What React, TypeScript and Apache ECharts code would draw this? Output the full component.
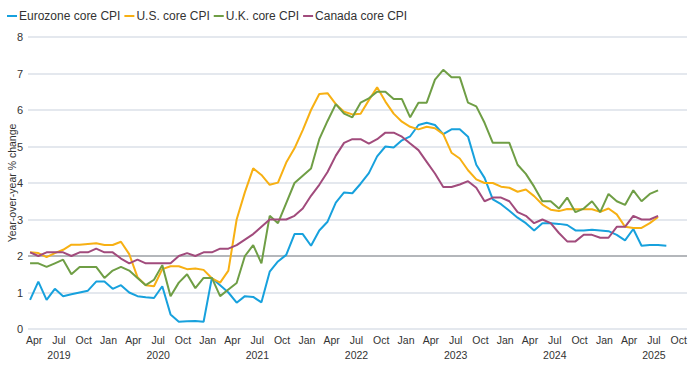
import React, { useEffect, useRef } from "react";
import * as echarts from "echarts";

// Months are counted from Jan 2019 (0 = Jan 2019). Each series starts in Mar 2019.
const START_MONTH = 2;
const MONTH_NAMES = ["Jan", "Feb", "Mar", "Apr", "May", "Jun", "Jul", "Aug", "Sep", "Oct", "Nov", "Dec"];
const TICK_MONTHS = [3, 6, 9, 12, 15, 18, 21, 24, 27, 30, 33, 36, 39, 42, 45, 48, 51, 54, 57, 60, 63, 66, 69, 72, 75, 78, 81];
const Y_TICKS = [0, 1, 2, 3, 4, 5, 6, 7, 8];

const eurozone = [
  0.8, 1.3, 0.8, 1.1, 0.9, 0.95, 1.0, 1.05, 1.3, 1.3,
  1.1, 1.2, 1.0, 0.9, 0.87, 0.85, 1.17, 0.4, 0.2, 0.21, 0.22, 0.2,
  1.4, 1.2, 1.0, 0.72, 0.9, 0.88, 0.73, 1.57, 1.85, 2.03, 2.6, 2.6,
  2.28, 2.7, 2.94, 3.46, 3.74, 3.72, 3.98, 4.27, 4.73, 5.0, 4.97, 5.17,
  5.28, 5.59, 5.65, 5.59, 5.34, 5.47, 5.47, 5.27, 4.5, 4.14, 3.55, 3.42,
  3.24, 3.05, 2.9, 2.7, 2.9, 2.9, 2.88, 2.85, 2.7, 2.7, 2.72, 2.7,
  2.68, 2.58, 2.43, 2.74, 2.28, 2.3, 2.3, 2.28,
];
const us = [
  2.1, 2.08, 1.97, 2.08, 2.17, 2.31, 2.31, 2.33, 2.35, 2.3,
  2.3, 2.39, 2.05, 1.42, 1.2, 1.17, 1.64, 1.72, 1.72, 1.64, 1.66, 1.62,
  1.39, 1.27, 1.6, 3.0, 3.75, 4.4, 4.22, 3.95, 4.01, 4.56, 4.95, 5.45,
  6.0, 6.44, 6.46, 6.16, 5.95, 5.88, 5.9, 6.27, 6.62, 6.23, 5.9, 5.68,
  5.54, 5.47, 5.54, 5.5, 5.34, 4.83, 4.67, 4.35, 4.1, 4.0, 4.0, 3.9,
  3.87, 3.76, 3.82, 3.64, 3.41, 3.27, 3.23, 3.29, 3.28, 3.28, 3.28, 3.21,
  3.3, 3.14, 2.8, 2.77, 2.77, 2.9, 3.07,
];
const uk = [
  1.8, 1.8, 1.7, 1.8, 1.9, 1.5, 1.7, 1.7, 1.7, 1.4,
  1.6, 1.7, 1.6, 1.4, 1.2, 1.35, 1.75, 0.9, 1.27, 1.5, 1.12, 1.4,
  1.4, 0.9, 1.08, 1.26, 2.0, 2.3, 1.8, 3.1, 2.9, 3.45, 4.0, 4.2,
  4.4, 5.2, 5.7, 6.16, 5.9, 5.8, 6.2, 6.32, 6.5, 6.5, 6.3, 6.3,
  5.8, 6.2, 6.2, 6.83, 7.1, 6.9, 6.9, 6.2, 6.1, 5.65, 5.1, 5.1,
  5.1, 4.5, 4.25, 3.9, 3.5, 3.5, 3.3, 3.6, 3.2, 3.3, 3.5, 3.2,
  3.7, 3.5, 3.4, 3.8, 3.5, 3.7, 3.8,
];
const canada = [
  2.1, 2.0, 2.1, 2.1, 2.1, 2.0, 2.1, 2.1, 2.2, 2.1,
  2.1, 1.93, 1.8, 1.9, 1.8, 1.8, 1.8, 1.8, 2.0, 2.08, 2.0, 2.1,
  2.1, 2.2, 2.2, 2.3, 2.45, 2.6, 2.8, 3.0, 3.0, 3.0, 3.1, 3.3,
  3.65, 3.95, 4.3, 4.75, 5.1, 5.2, 5.2, 5.08, 5.2, 5.38, 5.38, 5.27,
  5.08, 4.9, 4.58, 4.26, 3.89, 3.89, 3.96, 4.05, 3.87, 3.5, 3.6, 3.6,
  3.5, 3.2, 3.1, 2.9, 3.0, 2.9, 2.63, 2.4, 2.4, 2.58, 2.58, 2.5,
  2.5, 2.8, 2.8, 3.1, 3.0, 3.0, 3.1,
];

const SERIES = [
  { name: "Eurozone core CPI", values: eurozone, color: "#17a1dd" },
  { name: "U.S. core CPI", values: us, color: "#f7b013" },
  { name: "U.K. core CPI", values: uk, color: "#6f9e45" },
  { name: "Canada core CPI", values: canada, color: "#a14b7c" },
];

const FONT = "'Liberation Sans', Arial, Helvetica, sans-serif";

export default function App() {
  const ref = useRef<HTMLDivElement>(null);

  useEffect(() => {
    if (!ref.current) return;
    const chart = echarts.init(ref.current, null, { renderer: "svg" });
    const toPoints = (vals: number[]) => vals.map((v, i) => [START_MONTH + i + 0.5, v]);
    const splitColors = Y_TICKS.map((t) => (t === 2 ? "#9b9fa4" : "#dbe1e8"));

    chart.setOption({
      animation: false,
      textStyle: { fontFamily: FONT },
      legend: {
        left: 2,
        top: 5,
        icon: "rect",
        itemWidth: 10,
        itemHeight: 2,
        itemGap: 4,
        textStyle: { fontSize: 12, color: "#333", fontFamily: FONT, padding: [0, 0, 0, -3] },
        data: SERIES.map((s) => s.name),
      },
      grid: { left: 28, right: 13, top: 37, bottom: 36, containLabel: false, outerBoundsMode: "none" },
      xAxis: {
        type: "value",
        min: 2.25,
        max: 82,
        axisLine: { show: false },
        axisTick: { show: false },
        splitLine: { show: false },
        axisLabel: {
          customValues: TICK_MONTHS,
          margin: 3,
          fontSize: 10.5,
          color: "#333",
          fontFamily: FONT,
          lineHeight: 15,
          formatter: (val: number) => {
            const m = Math.round(val);
            const name = MONTH_NAMES[((m % 12) + 12) % 12];
            if (name === "Jul") return `Jul\n${2019 + Math.floor(m / 12)}`;
            return name;
          },
        },
      },
      yAxis: {
        type: "value",
        min: 0,
        max: 8,
        interval: 1,
        name: "Year-over-year % change",
        nameLocation: "middle",
        nameGap: 11,
        nameMoveOverlap: false,
        nameTextStyle: { fontSize: 10.5, color: "#333", fontFamily: FONT },
        axisLine: { show: false },
        axisTick: { show: false },
        axisLabel: { fontSize: 11, color: "#333", margin: 5, fontFamily: FONT },
        splitLine: { lineStyle: { color: splitColors, width: 1.5 } },
      },
      series: SERIES.map((s) => ({
        name: s.name,
        type: "line",
        data: toPoints(s.values),
        symbol: "none",
        color: s.color,
        lineStyle: { width: 2, color: s.color },
      })),
    });

    return () => chart.dispose();
  }, []);

  return (
    <div
      ref={ref}
      style={{ position: "fixed", left: 0, top: 0, width: 700, height: 365, background: "#fff" }}
    />
  );
}
